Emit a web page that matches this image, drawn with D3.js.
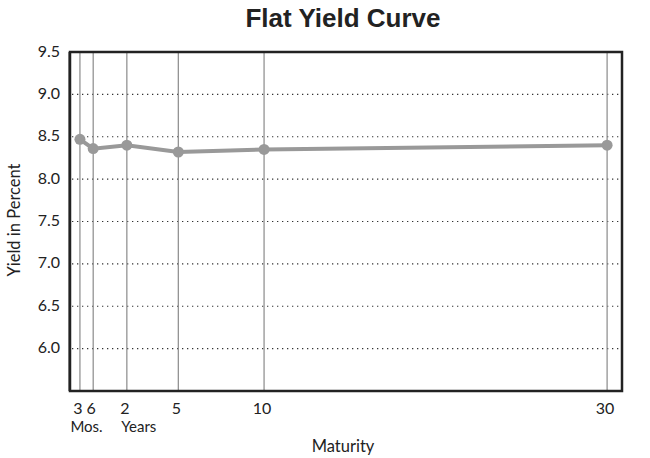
<!DOCTYPE html>
<html>
<head>
<meta charset="utf-8">
<script src="https://cdn.jsdelivr.net/npm/d3@7"></script>
<style>
  body { margin: 0; background: #fff; }
  text { font-family: Lato, "Open Sans", sans-serif; fill: #222; }
</style>
</head>
<body>
<div id="chart-area"></div>
<script>

var width = 650,
	height = 458;

var margin = {top: 52, right: 28, bottom: 67, left: 70};

// data
var maturities = [0.25, 0.5, 2, 5, 10, 30];
var yields = [8.47, 8.36, 8.40, 8.32, 8.35, 8.40];
var tickLabels = ["3", "6", "2", "5", "10", "30"];
var subLabels = [{at: [0.25, 0.5], text: "Mos."}, {at: [2], text: "Years"}];
var yTicks = [6.0, 6.5, 7.0, 7.5, 8.0, 8.5, 9.0, 9.5];

var plotW = width - margin.left - margin.right,
	plotH = height - margin.top - margin.bottom;

var svg = d3.select("#chart-area").append("svg")
	.attr("width", width)
	.attr("height", height);

var g = svg.append("g")
	.attr("transform", "translate(" + margin.left + "," + margin.top + ")");

// short end of the axis is stretched, long end is linear
var xScale = d3.scaleLinear()
	.domain([0, 0.25, 0.5, 2, 30])
	.range([0, 0.018, 0.042, 0.103, 0.973].map(function(f) { return f * plotW; }));

var yScale = d3.scaleLinear()
	.domain([5.5, 9.5])
	.range([plotH, 0]);

// dotted horizontal gridlines
g.selectAll(".hgrid")
	.data(yTicks.filter(function(d) { return d < 9.5; }))
	.enter().append("line")
	.attr("class", "hgrid")
	.attr("x1", 2)
	.attr("x2", plotW - 2)
	.attr("y1", function(d) { return yScale(d); })
	.attr("y2", function(d) { return yScale(d); })
	.attr("stroke", "#333")
	.attr("stroke-width", 1.2)
	.attr("stroke-dasharray", "1.3,3.7");

// vertical lines at each maturity
g.selectAll(".vgrid")
	.data(maturities)
	.enter().append("line")
	.attr("class", "vgrid")
	.attr("x1", function(d) { return xScale(d); })
	.attr("x2", function(d) { return xScale(d); })
	.attr("y1", 0)
	.attr("y2", plotH)
	.attr("stroke", "#8a8a8a")
	.attr("stroke-width", 1.2);

var points = maturities.map(function(m, i) { return {m: m, y: yields[i]}; });

var line = d3.line()
	.x(function(d) { return xScale(d.m); })
	.y(function(d) { return yScale(d.y); });

g.append("path")
	.datum(points)
	.attr("d", line)
	.attr("fill", "none")
	.attr("stroke", "#999")
	.attr("stroke-width", 4);

g.selectAll(".dot")
	.data(points)
	.enter().append("circle")
	.attr("class", "dot")
	.attr("cx", function(d) { return xScale(d.m); })
	.attr("cy", function(d) { return yScale(d.y); })
	.attr("r", 5.5)
	.attr("fill", "#999");

// frame
g.append("rect")
	.attr("x", 0)
	.attr("y", 0)
	.attr("width", plotW)
	.attr("height", plotH)
	.attr("fill", "none")
	.attr("stroke", "#222")
	.attr("stroke-width", 2.5);

g.append("line")
	.attr("x1", -0.5).attr("x2", -0.5)
	.attr("y1", 0).attr("y2", plotH)
	.attr("stroke", "#222")
	.attr("stroke-width", 2);

// y tick labels
g.selectAll(".ylab")
	.data(yTicks)
	.enter().append("text")
	.attr("class", "ylab")
	.attr("x", -10)
	.attr("y", function(d) { return yScale(d) - 1; })
	.attr("dy", "0.35em")
	.attr("text-anchor", "end")
	.style("font-size", "16px")
	.text(function(d) { return d3.format(".1f")(d); });

// x tick labels
g.selectAll(".xlab")
	.data(maturities)
	.enter().append("text")
	.attr("class", "xlab")
	.attr("x", function(d) { return xScale(d) - 2; })
	.attr("y", plotH + 23)
	.attr("text-anchor", "middle")
	.style("font-size", "16px")
	.text(function(d, i) { return tickLabels[i]; });

g.selectAll(".sublab")
	.data(subLabels)
	.enter().append("text")
	.attr("class", "sublab")
	.attr("x", function(d) { return d3.mean(d.at, xScale) + (d.at.length > 1 ? 0 : 12); })
	.attr("y", plotH + 41)
	.attr("text-anchor", "middle")
	.style("font-size", "15px")
	.text(function(d) { return d.text; });

// axis titles
svg.append("text")
	.attr("x", 343)
	.attr("y", height - 6)
	.attr("text-anchor", "middle")
	.style("font-size", "16.5px")
	.text("Maturity");

svg.append("text")
	.attr("transform", "translate(20,220) rotate(-90)")
	.attr("text-anchor", "middle")
	.style("font-size", "16.5px")
	.text("Yield in Percent");

svg.append("text")
	.attr("x", 343)
	.attr("y", 27)
	.attr("text-anchor", "middle")
	.style("font-family", "'Liberation Sans Narrow', sans-serif")
	.style("font-weight", "bold")
	.style("font-size", "26px")
	.text("Flat Yield Curve");

</script>
</body>
</html>
